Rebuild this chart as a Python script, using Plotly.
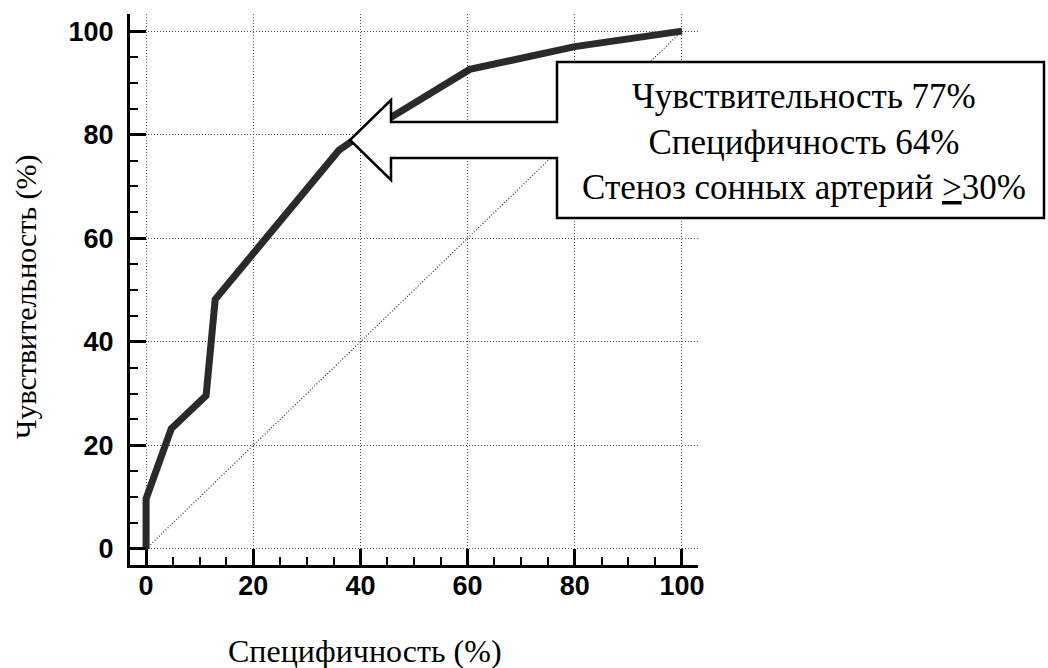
import plotly.graph_objects as go

# ROC curve points (x = 100 - specificity, y = sensitivity), %
roc_x = [0, 0, 4.7, 11.2, 12.9, 36, 38.5, 60.4, 80, 100]
roc_y = [0, 9.7, 23.2, 29.6, 48.2, 77, 78.8, 92.6, 97, 100]

# reference diagonal
diag_x = [0, 100]
diag_y = [0, 100]

tick_vals = [0, 20, 40, 60, 80, 100]
tick_text = ["0", "20", "40", "60", "80", "100"]

x_title = "Специфичность (%)"
y_title = "Чувствительность (%)"
box_lines = ["Чувствительность 77%", "Специфичность 64%", "Стеноз сонных артерий <u>&gt;</u>30%"]

SERIF = "Liberation Serif"
W, H = 1048, 668
L, R, T, B = 130, 698, 14, 565  # plot area in pixels


def px(xp):
    return (xp - L) / (R - L)


def py(yp):
    return (B - yp) / (B - T)


fig = go.Figure()
fig.add_trace(go.Scatter(x=diag_x, y=diag_y, mode="lines",
                         line=dict(color="#333333", width=1.2, dash="1px,2px"),
                         hoverinfo="skip", showlegend=False))
fig.add_trace(go.Scatter(x=roc_x, y=roc_y, mode="lines",
                         line=dict(color="#2a2a2a", width=7),
                         showlegend=False))

axis_common = dict(
    tickvals=tick_vals, ticktext=tick_text,
    ticks="inside", ticklen=16, tickwidth=3, tickcolor="black",
    showline=True, linewidth=3, linecolor="black",
    showgrid=True, gridcolor="#555555", gridwidth=1, griddash="1px,2px",
    zeroline=False,
    tickfont=dict(family="Liberation Sans, Arial", size=27, color="black", weight="bold"),
    minor=dict(dtick=5, tick0=0, ticks="inside", ticklen=8, tickwidth=2,
               tickcolor="black", showgrid=False),
    fixedrange=True,
)

fig.update_xaxes(range=[-3, 103], ticklabelstandoff=-5, **axis_common)
fig.update_yaxes(range=[-3.1, 103.3], ticklabelstandoff=8, **axis_common)

# callout: box merged with a left-pointing block arrow
pts = [(557, 62), (1044, 62), (1044, 218), (557, 218), (557, 158), (391, 158),
       (391, 180), (350, 140), (391, 100), (391, 122), (557, 122)]
path = "M " + " L ".join(f"{px(a):.5f},{py(b):.5f}" for a, b in pts) + " Z"
fig.add_shape(type="path", path=path, xref="paper", yref="paper",
              fillcolor="white", line=dict(color="black", width=2.5), layer="above")

fig.add_annotation(x=px(804), y=py(142), xref="paper", yref="paper",
                   text="<br>".join(box_lines), showarrow=False,
                   xanchor="center", yanchor="middle", align="center",
                   font=dict(family=SERIF, size=35, color="black"))

fig.add_annotation(x=px(365), y=py(651), xref="paper", yref="paper",
                   text=x_title, showarrow=False, xanchor="center", yanchor="middle",
                   font=dict(family=SERIF, size=32, color="black"))
fig.add_annotation(x=px(26), y=py(297), xref="paper", yref="paper",
                   text=y_title, showarrow=False, textangle=-90,
                   xanchor="center", yanchor="middle",
                   font=dict(family=SERIF, size=30, color="black"))

fig.update_layout(width=W, height=H,
                  margin=dict(l=L, r=W - R, t=T, b=H - B, pad=0),
                  paper_bgcolor="white", plot_bgcolor="white")

fig.write_html("out.html", config={"displayModeBar": False})
